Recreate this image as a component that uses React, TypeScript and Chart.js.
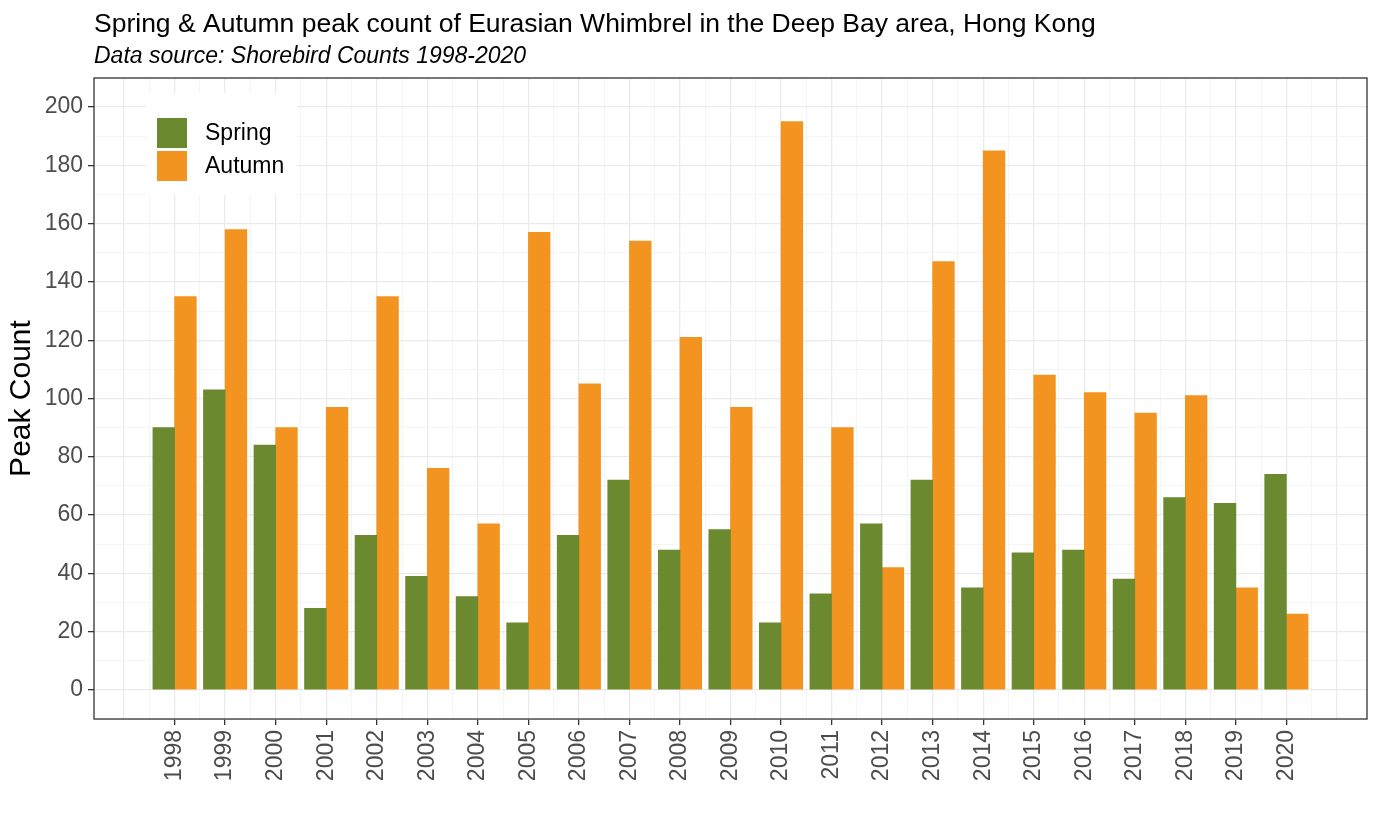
import React, { useEffect, useRef } from "react";
import { Chart, registerables } from "chart.js";

Chart.register(...registerables);

const TITLE = "Spring & Autumn peak count of Eurasian Whimbrel in the Deep Bay area, Hong Kong";
const SUBTITLE = "Data source: Shorebird Counts 1998-2020";
const Y_TITLE = "Peak Count";

const YEARS = [
  1998, 1999, 2000, 2001, 2002, 2003, 2004, 2005, 2006, 2007, 2008, 2009,
  2010, 2011, 2012, 2013, 2014, 2015, 2016, 2017, 2018, 2019, 2020,
];
const SPRING = [
  90, 103, 84, 28, 53, 39, 32, 23, 53, 72, 48, 55,
  23, 33, 57, 72, 35, 47, 48, 38, 66, 64, 74,
];
const AUTUMN = [
  135, 158, 90, 97, 135, 76, 57, 157, 105, 154, 121, 97,
  195, 90, 42, 147, 185, 108, 102, 95, 101, 35, 26,
];
const SERIES_LABELS = ["Spring", "Autumn"];
const SERIES_COLORS = ["#6B8A30", "#F39420"];

const FONT = "'Liberation Sans', Arial, sans-serif";

const overlayPlugin = {
  id: "overlay",
  afterDraw(chart: any) {
    const { ctx, chartArea } = chart;
    const { left, top, right, bottom } = chartArea;
    ctx.save();
    // titles
    ctx.fillStyle = "#000000";
    ctx.textAlign = "left";
    ctx.textBaseline = "alphabetic";
    ctx.font = `26.5px ${FONT}`;
    ctx.fillText(TITLE, left, 31.5);
    ctx.font = `italic 23px ${FONT}`;
    ctx.fillText(SUBTITLE, left, 62.5);
    // legend
    ctx.fillStyle = "#FFFFFF";
    ctx.fillRect(left + 52, top + 15, 151, 102);
    chart.data.datasets.forEach((ds: any, i: number) => {
      const ky = top + 40 + i * 33;
      ctx.fillStyle = ds.backgroundColor;
      ctx.fillRect(left + 63, ky, 30, 30);
      ctx.fillStyle = "#000000";
      ctx.font = `23px ${FONT}`;
      ctx.textBaseline = "middle";
      ctx.fillText(ds.label, left + 111, ky + 16);
    });
    // panel border
    ctx.strokeStyle = "#333333";
    ctx.lineWidth = 1.3;
    ctx.strokeRect(left, top, right - left, bottom - top);
    ctx.restore();
  },
};

const isYear = (v: number) => YEARS.some((y) => Math.abs(y - v) < 1e-6);
const isStep = (v: number, step: number) => Math.abs(v / step - Math.round(v / step)) < 1e-6;

export default function App() {
  const ref = useRef<HTMLCanvasElement | null>(null);

  useEffect(() => {
    if (!ref.current) return;
    const chart = new Chart(ref.current, {
      type: "bar",
      data: {
        datasets: [
          {
            label: SERIES_LABELS[0],
            data: YEARS.map((y, i) => ({ x: y, y: SPRING[i] })),
            backgroundColor: SERIES_COLORS[0],
            borderWidth: 0,
          },
          {
            label: SERIES_LABELS[1],
            data: YEARS.map((y, i) => ({ x: y, y: AUTUMN[i] })),
            backgroundColor: SERIES_COLORS[1],
            borderWidth: 0,
          },
        ],
      },
      options: {
        animation: false,
        responsive: false,
        devicePixelRatio: 1,
        layout: { padding: { top: 78, right: 11, left: 0, bottom: 0 } },
        datasets: { bar: { barThickness: 21.7 } },
        plugins: {
          legend: { display: false },
          tooltip: { enabled: false },
          title: { display: false },
        },
        scales: {
          x: {
            type: "linear",
            offset: false,
            min: 1996.405,
            max: 2021.595,
            afterFit: (s: any) => {
              s.height = 108;
              s.paddingLeft = 0;
              s.paddingRight = 0;
            },
            border: { display: false },
            grid: {
              offset: false,
              color: (c: any) => {
                const v = c.tick?.value;
                if (v === undefined || v < 1996.9 || v > 2021.1) return "rgba(0,0,0,0)";
                return isStep(v, 1) ? "#EBEBEB" : "#F2F2F2";
              },
              lineWidth: (c: any) => {
                const v = c.tick?.value;
                return v !== undefined && isStep(v, 1) ? 1.3 : 0.8;
              },
              tickColor: (c: any) => {
                const v = c.tick?.value;
                return v !== undefined && isYear(v) ? "#333333" : "rgba(0,0,0,0)";
              },
              tickWidth: 1.3,
              tickLength: 6,
            },
            ticks: {
              stepSize: 0.5,
              includeBounds: false,
              autoSkip: false,
              minRotation: 90,
              maxRotation: 90,
              padding: 5,
              color: "#4D4D4D",
              font: { family: FONT, size: 23 },
              callback: (v: any) => (isYear(Number(v)) ? String(Math.round(Number(v))) : ""),
            },
          },
          y: {
            type: "linear",
            min: -10,
            max: 210,
            afterFit: (s: any) => {
              s.width = 94;
              s.paddingTop = 0;
              s.paddingBottom = 0;
            },
            border: { display: false },
            grid: {
              color: (c: any) => {
                const v = c.tick?.value;
                return v !== undefined && isStep(v, 20) ? "#EBEBEB" : "#F2F2F2";
              },
              lineWidth: (c: any) => {
                const v = c.tick?.value;
                return v !== undefined && isStep(v, 20) ? 1.3 : 0.8;
              },
              tickColor: (c: any) => {
                const v = c.tick?.value;
                return v !== undefined && isStep(v, 20) && v >= 0 && v <= 200 ? "#333333" : "rgba(0,0,0,0)";
              },
              tickWidth: 1.3,
              tickLength: 6,
            },
            ticks: {
              stepSize: 10,
              autoSkip: false,
              padding: 5,
              color: "#4D4D4D",
              font: { family: FONT, size: 23 },
              callback: (v: any) => {
                const n = Number(v);
                return isStep(n, 20) && n >= 0 && n <= 200 ? String(Math.round(n)) : "";
              },
            },
            title: {
              display: true,
              text: Y_TITLE,
              color: "#000000",
              font: { family: FONT, size: 30 },
              padding: { top: 4, bottom: 4 },
            },
          },
        },
      },
      plugins: [overlayPlugin],
    } as any);
    return () => chart.destroy();
  }, []);

  return (
    <div style={{ position: "fixed", left: 0, top: 0, width: 1378, height: 827, background: "#fff" }}>
      <canvas ref={ref} width={1378} height={827} style={{ width: 1378, height: 827, display: "block" }} />
    </div>
  );
}
